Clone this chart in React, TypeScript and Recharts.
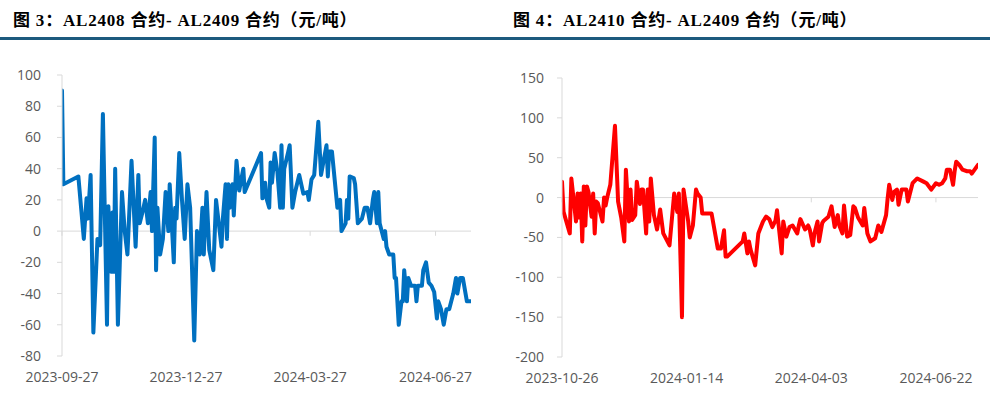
import React from "react";
import { LineChart, Line, XAxis, YAxis, ReferenceLine } from "recharts";

const LEFT_TITLE = "图 3：AL2408 合约- AL2409 合约（元/吨）";
const RIGHT_TITLE = "图 4：AL2410 合约- AL2409 合约（元/吨）";

const LEFT_DATES = [
  "2023-09-27","2023-09-28","2023-10-09","2023-10-13","2023-10-15","2023-10-16","2023-10-18","2023-10-20","2023-10-23","2023-10-25",
  "2023-10-27","2023-10-30","2023-10-31","2023-11-02","2023-11-03","2023-11-04","2023-11-05","2023-11-07","2023-11-10","2023-11-12",
  "2023-11-14","2023-11-17","2023-11-20","2023-11-22","2023-11-23","2023-11-25","2023-11-27","2023-11-29","2023-12-01","2023-12-02",
  "2023-12-04","2023-12-05","2023-12-06","2023-12-08","2023-12-10","2023-12-12","2023-12-14","2023-12-15","2023-12-18","2023-12-19",
  "2023-12-20","2023-12-22","2023-12-24","2023-12-26","2023-12-28","2023-12-30","2024-01-02","2024-01-04","2024-01-06","2024-01-08",
  "2024-01-09","2024-01-11","2024-01-13","2024-01-16","2024-01-18","2024-01-22","2024-01-23","2024-01-25","2024-01-26","2024-01-27",
  "2024-01-28","2024-01-30","2024-01-31","2024-02-02","2024-02-04","2024-02-07","2024-02-08","2024-02-20","2024-02-21","2024-02-23",
  "2024-02-24","2024-02-26","2024-02-27","2024-02-28","2024-03-01","2024-03-03","2024-03-05","2024-03-06","2024-03-07","2024-03-08",
  "2024-03-11","2024-03-12","2024-03-14","2024-03-16","2024-03-19","2024-03-22","2024-03-25","2024-03-26","2024-03-28","2024-03-30",
  "2024-04-02","2024-04-04","2024-04-08","2024-04-09","2024-04-10","2024-04-12","2024-04-16","2024-04-18","2024-04-19","2024-04-22",
  "2024-04-23","2024-04-24","2024-04-25","2024-04-28","2024-04-29","2024-05-01","2024-05-04","2024-05-06","2024-05-08","2024-05-10",
  "2024-05-12","2024-05-13","2024-05-15","2024-05-16","2024-05-17","2024-05-20","2024-05-21","2024-05-22","2024-05-24","2024-05-27",
  "2024-05-28","2024-05-29","2024-05-31","2024-06-02","2024-06-03","2024-06-04","2024-06-06","2024-06-07","2024-06-09","2024-06-12",
  "2024-06-13","2024-06-14","2024-06-17","2024-06-18","2024-06-20","2024-06-22","2024-06-24","2024-06-26","2024-06-28","2024-06-29",
  "2024-07-01","2024-07-03","2024-07-05","2024-07-07","2024-07-10","2024-07-12","2024-07-13","2024-07-15","2024-07-17","2024-07-20",
  "2024-07-23",
];
const LEFT_VALUES = [
  90, 30, 35, -5, 21, 8, 36, -65, -5, -9,
  75, -60, 16, -26, 12, -26, 40, -60, 25, 0,
  -15, 45, -10, 36, 5, 12, 20, 5, 25, 0,
  60, -25, 15, -15, -5, 25, 0, 30, -20, 15,
  8, 50, 20, -5, 30, 15, -70, 0, -15, 15,
  -15, 25, -12, -25, 20, -10, 8, 30, -5, 30,
  15, 30, 10, 45, 26, 40, 25, 50, 21, 31,
  21, 15, 44, 31, 50, 38, 15, 55, 15, 40,
  51, 55, 15, 25, 36, 24, 25, 20, 33, 36,
  70, 36, 55, 35, 51, 51, 15, 20, 0, 5,
  20, 8, 35, 34, 30, 5, 8, 15, 15, 5,
  20, 25, 5, 25, 5, -5, 0, -10, -15, -15,
  -30, -30, -60, -45, -45, -25, -45, -30, -35, -35,
  -45, -35, -35, -25, -20, -33, -35, -39, -56, -45,
  -50, -60, -50, -50, -40, -30, -40, -30, -30, -45,
  -45,
];

const RIGHT_DATES = [
  "2023-10-26","2023-10-27","2023-10-31","2023-11-01","2023-11-04","2023-11-05","2023-11-06","2023-11-07","2023-11-08","2023-11-09",
  "2023-11-10","2023-11-11","2023-11-12","2023-11-14","2023-11-15","2023-11-16","2023-11-17","2023-11-18","2023-11-21","2023-11-22",
  "2023-11-23","2023-11-24","2023-11-26","2023-11-29","2023-12-01","2023-12-03","2023-12-05","2023-12-06","2023-12-08","2023-12-09",
  "2023-12-10","2023-12-12","2023-12-13","2023-12-15","2023-12-16","2023-12-17","2023-12-19","2023-12-20","2023-12-21","2023-12-22",
  "2023-12-24","2023-12-26","2023-12-28","2023-12-30","2024-01-03","2024-01-06","2024-01-08","2024-01-09","2024-01-11","2024-01-12",
  "2024-01-15","2024-01-16","2024-01-18","2024-01-20","2024-01-21","2024-01-23","2024-01-24","2024-01-28","2024-01-30","2024-02-03",
  "2024-02-05","2024-02-07","2024-02-08","2024-02-09","2024-02-19","2024-02-20","2024-02-22","2024-02-23","2024-02-24","2024-02-27",
  "2024-02-29","2024-03-02","2024-03-03","2024-03-05","2024-03-07","2024-03-09","2024-03-11","2024-03-12","2024-03-15","2024-03-16",
  "2024-03-18","2024-03-20","2024-03-22","2024-03-25","2024-03-26","2024-03-27","2024-03-30","2024-04-01","2024-04-02","2024-04-04",
  "2024-04-05","2024-04-07","2024-04-08","2024-04-10","2024-04-11","2024-04-14","2024-04-16","2024-04-18","2024-04-20","2024-04-21",
  "2024-04-23","2024-04-24","2024-04-26","2024-04-28","2024-04-30","2024-05-01","2024-05-03","2024-05-06","2024-05-07","2024-05-09",
  "2024-05-11","2024-05-14","2024-05-16","2024-05-18","2024-05-21","2024-05-22","2024-05-23","2024-05-25","2024-05-26","2024-05-28",
  "2024-05-29","2024-05-31","2024-06-03","2024-06-04","2024-06-07","2024-06-10","2024-06-14","2024-06-16","2024-06-19","2024-06-22",
  "2024-06-24","2024-06-26","2024-06-28","2024-06-29","2024-07-01","2024-07-03","2024-07-04","2024-07-05","2024-07-07","2024-07-09",
  "2024-07-12","2024-07-14","2024-07-15","2024-07-19",
];
const RIGHT_VALUES = [
  20, -18, -45, 24, -30, 5, -25, 5, -55, 14,
  -35, 14, 7, -24, 5, -45, -5, -7, -30, 0,
  -10, 0, 16, 90, -5, -25, -55, 35, -30, 10,
  -28, -22, 20, -8, 10, 10, -45, 10, -30, 24,
  -22, -40, -15, -45, -60, 5, -18, 5, -150, 10,
  -30, -50, -35, 10, 5, 0, -20, -20, -20, -64,
  -64, -41, -74, -74, -55, -45, -70, -55, -65, -85,
  -45, -35, -30, -24, -27, -37, -29, -16, -70, -30,
  -49, -37, -35, -45, -35, -27, -40, -35, -40, -60,
  -45, -30, -55, -32, -29, -24, -11, -37, -22, -35,
  -45, -10, -49, -47, -11, -13, -25, -35, -13, -45,
  -55, -51, -35, -43, -22, -1, 16, -3, 7, 10,
  -9, 10, 10, -5, 18, 24, 20, 18, 10, 18,
  16, 18, 24, 35, 35, 16, 33, 45, 41, 35,
  33, 33, 30, 41,
];

const LEFT_X_TICKS = ["2023-09-27", "2023-12-27", "2024-03-27", "2024-06-27"];
const LEFT_X_DOMAIN = ["2023-09-27", "2024-07-23"];
const LEFT_Y_TICKS = [-80, -60, -40, -20, 0, 20, 40, 60, 80, 100];

const RIGHT_X_TICKS = ["2023-10-26", "2024-01-14", "2024-04-03", "2024-06-22"];
const RIGHT_X_DOMAIN = ["2023-10-26", "2024-07-19"];
const RIGHT_Y_TICKS = [-200, -150, -100, -50, 0, 50, 100, 150];

const toT = (s: string) => Date.parse(s);
const fmt = (t: number) => new Date(t).toISOString().slice(0, 10);

const leftData = LEFT_DATES.map((d, i) => ({ t: toT(d), v: LEFT_VALUES[i] }));
const rightData = RIGHT_DATES.map((d, i) => ({ t: toT(d), v: RIGHT_VALUES[i] }));

const AXIS_GRAY = "#D9D9D9";
const LABEL_GRAY = "#595959";
const LABEL_FONT = "'Open Sans', 'Liberation Sans', sans-serif";
const TITLE_FONT = "'Liberation Serif', 'Noto Sans CJK SC', serif";

type PanelProps = {
  data: { t: number; v: number }[];
  xTicks: string[];
  xDomain: string[];
  yTicks: number[];
  color: string;
  margin: { top: number; right: number; bottom: number; left: number };
  yTickMargin: number;
  tickDepth: number;
};

function Panel({ data, xTicks, xDomain, yTicks, color, margin, yTickMargin, tickDepth }: PanelProps) {
  const yMin = yTicks[0];
  const yMax = yTicks[yTicks.length - 1];
  return (
    <LineChart width={504} height={401} data={data} margin={margin}>
      <XAxis
        dataKey="t"
        type="number"
        scale="time"
        domain={[toT(xDomain[0]), toT(xDomain[1])]}
        ticks={xTicks.map(toT)}
        tickFormatter={fmt}
        interval={0}
        axisLine={false}
        tickLine={false}
        tickSize={0}
        tickMargin={16}
        height={30}
        tick={{ fill: LABEL_GRAY, fontSize: 14, fontFamily: LABEL_FONT }}
        allowDataOverflow
      />
      <YAxis
        type="number"
        domain={[yMin, yMax]}
        ticks={yTicks}
        interval={0}
        width={50}
        axisLine={{ stroke: AXIS_GRAY, strokeWidth: 1 }}
        tickLine={{ stroke: AXIS_GRAY, strokeWidth: 1 }}
        tickSize={5}
        tickMargin={yTickMargin}
        tick={{ fill: LABEL_GRAY, fontSize: 14, fontFamily: LABEL_FONT }}
        allowDataOverflow
      />
      <ReferenceLine y={0} stroke={AXIS_GRAY} strokeWidth={1} />
      {xTicks.map((d) => (
        <ReferenceLine
          key={d}
          segment={[
            { x: toT(d), y: 0 },
            { x: toT(d), y: -tickDepth },
          ]}
          stroke={AXIS_GRAY}
          strokeWidth={1}
        />
      ))}
      <Line
        type="linear"
        dataKey="v"
        stroke={color}
        strokeWidth={4}
        dot={false}
        activeDot={false}
        strokeLinejoin="round"
        strokeLinecap="round"
        isAnimationActive={false}
      />
    </LineChart>
  );
}

const titleStyle: React.CSSProperties = {
  position: "absolute",
  top: 6,
  fontFamily: TITLE_FONT,
  fontWeight: "bold",
  fontSize: 17,
  letterSpacing: 0.8,
  color: "#000",
  whiteSpace: "nowrap",
};

export default function App() {
  return (
    <div
      style={{
        position: "absolute",
        left: 0,
        top: 0,
        width: 1008,
        height: 401,
        background: "#ffffff",
        overflow: "hidden",
      }}
    >
      <div style={{ ...titleStyle, left: 13 }}>{LEFT_TITLE}</div>
      <div style={{ ...titleStyle, left: 513 }}>{RIGHT_TITLE}</div>
      <div
        style={{
          position: "absolute",
          left: 0,
          top: 37,
          width: 990,
          height: 3,
          background: "#1D5A7E",
        }}
      />
      <div style={{ position: "absolute", left: 0, top: 0 }}>
        <Panel
          data={leftData}
          xTicks={LEFT_X_TICKS}
          xDomain={LEFT_X_DOMAIN}
          yTicks={LEFT_Y_TICKS}
          color="#0070C0"
          margin={{ top: 75, right: 33, bottom: 15, left: 12 }}
          yTickMargin={16}
          tickDepth={3}
        />
      </div>
      <div style={{ position: "absolute", left: 504, top: 0 }}>
        <Panel
          data={rightData}
          xTicks={RIGHT_X_TICKS}
          xDomain={RIGHT_X_DOMAIN}
          yTicks={RIGHT_Y_TICKS}
          color="#FF0000"
          margin={{ top: 78, right: 30, bottom: 14, left: 8 }}
          yTickMargin={13}
          tickDepth={6}
        />
      </div>
    </div>
  );
}
